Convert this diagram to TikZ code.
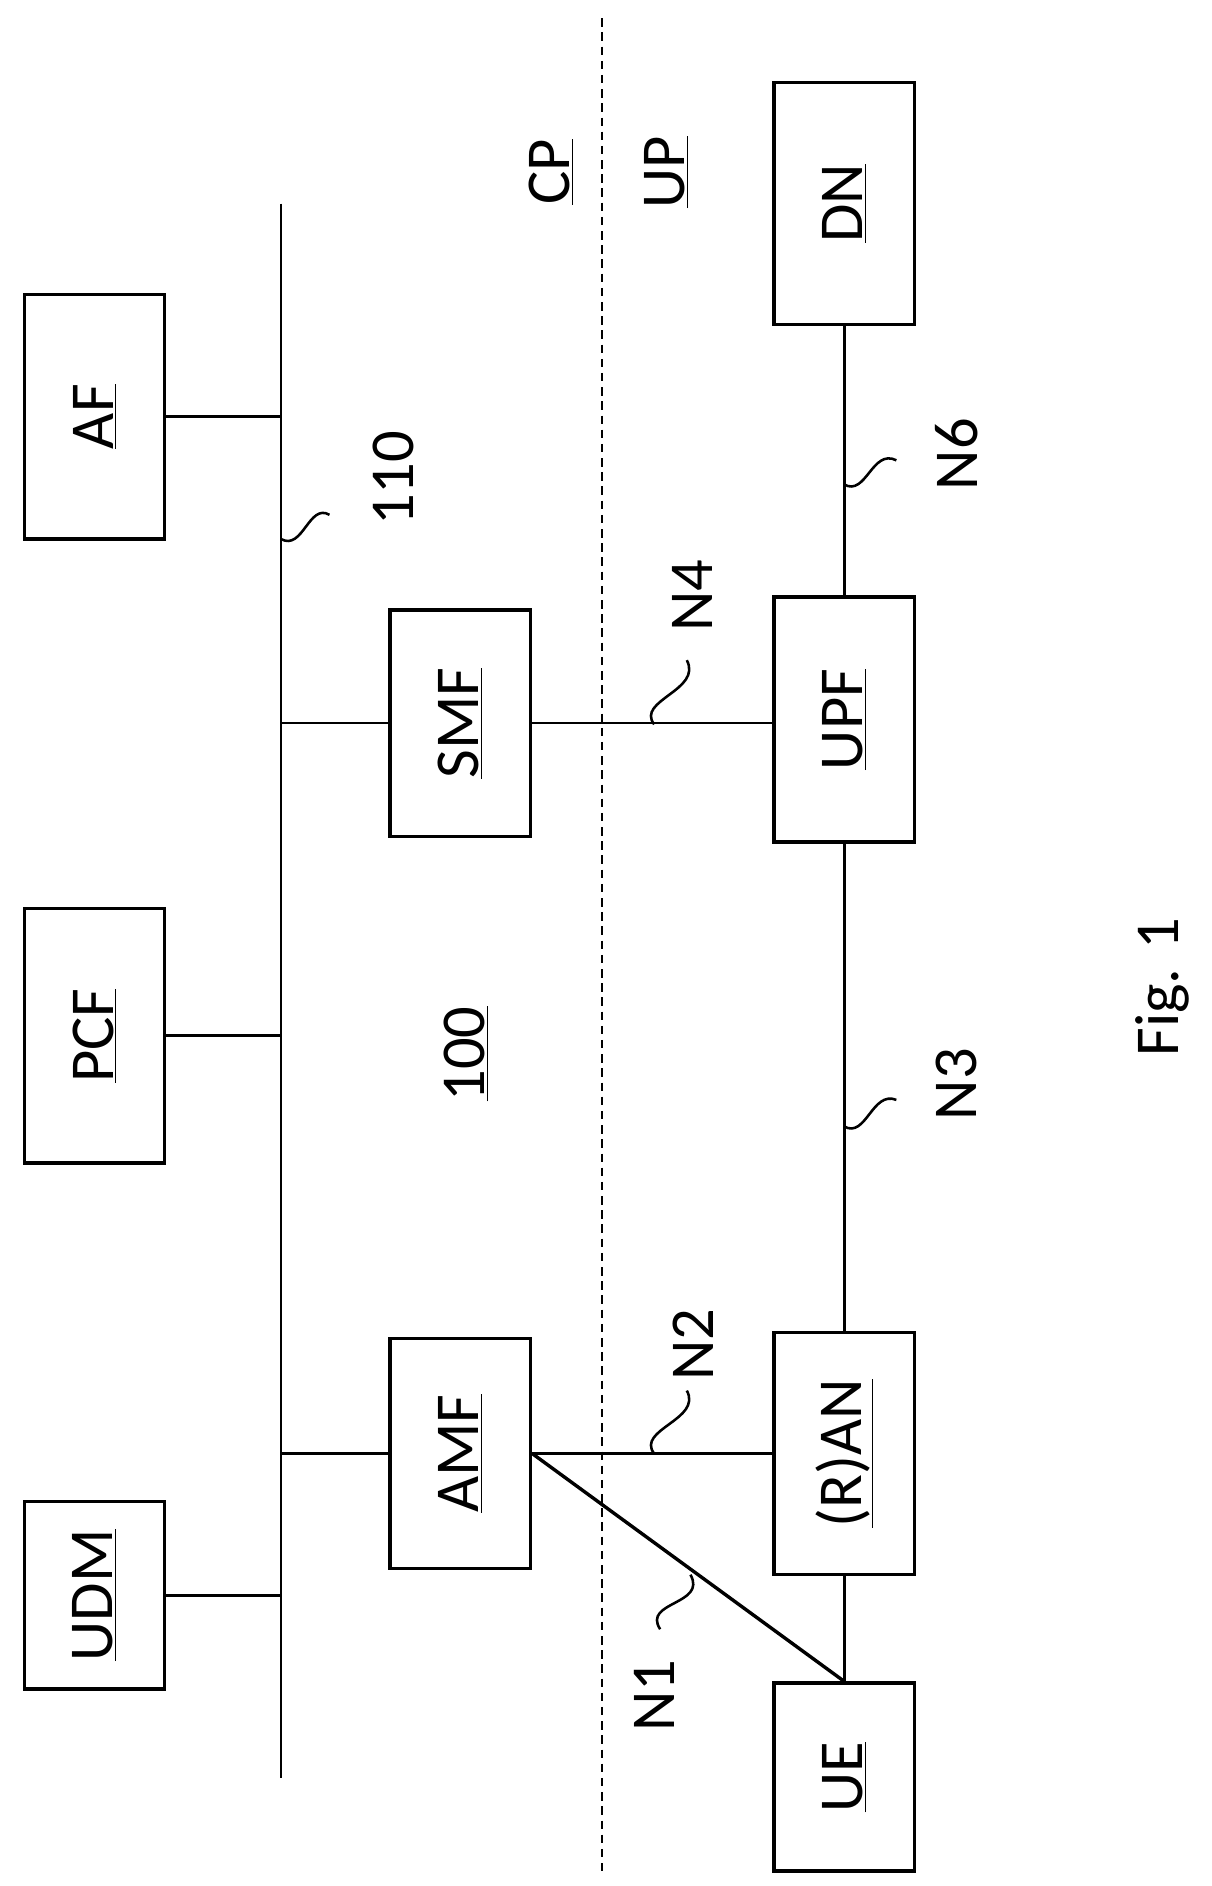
\documentclass[tikz,border=0pt]{standalone}
\usepackage{fontspec}
\setmainfont{Carlito}
\usetikzlibrary{positioning}

\begin{document}
\begin{tikzpicture}[x=0.03cm, y=-0.03cm,
  every node/.style = {font=\fontsize{44}{48}\selectfont},
  nf/.style = {draw, line width=2.4pt, rotate=90, inner sep=0pt,
    minimum height=3.48cm},
  lnk/.style = {line width=1.8pt},
  sq/.style = {line width=1.8pt},
  lbl/.style = {rotate=90}]
  \useasboundingbox (0,0) rectangle (1000,1557);
  % control plane functions
  \node[nf, minimum width=4.65cm] (udm) at (78,1317) {\underline{UDM}};
  \node[nf, minimum width=6.3cm] (pcf) at (78,855) {\underline{PCF}};
  \node[nf, minimum width=6.06cm] (af) at (78,344) {\underline{AF}};
  \node[nf, minimum width=5.7cm] (amf) at (380,1200) {\underline{AMF}};
  \node[nf, minimum width=5.6cm] (smf) at (380,597) {\underline{SMF}};
  % user plane functions
  \node[nf, minimum width=6cm] (dn) at (697,168) {\underline{DN}};
  \node[nf, minimum width=6.06cm] (upf) at (697,594) {\underline{UPF}};
  \node[nf, minimum width=6cm] (ran) at (697,1200) {\underline{(R)AN}};
  \node[nf, minimum width=4.65cm] (ue) at (697,1467) {\underline{UE}};
  % service bus
  \coordinate (bt) at (232,168);
  \coordinate (bb) at (232,1468);
  \draw[line width=1.6pt] (bt) -- (bb);
  \draw[lnk] (udm.south) -- (udm.south -| bt);
  \draw[lnk] (pcf.south) -- (pcf.south -| bt);
  \draw[lnk] (af.south) -- (af.south -| bt);
  \draw[lnk] (amf.north) -- (amf.north -| bt);
  \draw[lnk] (smf.north) -- (smf.north -| bt);
  % CP / UP split
  \coordinate (dt) at (497,15);
  \coordinate (db) at (497,1545);
  \draw[line width=1.6pt, dash pattern=on 6pt off 4pt] (dt) -- (db);
  \node[lbl] (cp) at (455,142) {\underline{CP}};
  \node[lbl] (up) at (550,142) {\underline{UP}};
  \node[lbl] (nw) at (385,870) {\underline{100}};
  % reference points
  \draw[lnk] (dn.west) -- (upf.east);
  \draw[lnk] (smf.south) -- (smf.south -| upf.north);
  \draw[lnk] (upf.west) -- (ran.east);
  \draw[lnk] (amf.south) -- (amf.south -| ran.north);
  \draw[lnk] (ran.west) -- (ue.east);
  \draw[line width=2.4pt] (amf.south) -- (ue.east);
  % labels
  \node[lbl] (l110) at (325,395) {110};
  \node[lbl] (n6) at (790,375) {N6};
  \node[lbl] (n4) at (572,492) {N4};
  \node[lbl] (n3) at (790,895) {N3};
  \node[lbl] (n2) at (572,1110) {N2};
  \node[lbl] (n1) at (540,1400) {N1};
  \draw[sq] (232,445) .. controls (250,455) and (255,415) .. (272,425);
  \draw[sq] (697,400) .. controls (715,410) and (720,370) .. (740,380);
  \draw[sq] (540,598) .. controls (525,578) and (580,570) .. (567,545);
  \draw[sq] (697,930) .. controls (715,940) and (720,900) .. (740,908);
  \draw[sq] (540,1200) .. controls (525,1180) and (580,1172) .. (567,1148);
  \draw[sq] (570,1300) .. controls (584,1325) and (530,1322) .. (545,1345);
  \node[lbl] (fig) at (960,815) {Fig. 1};
\end{tikzpicture}
\end{document}
